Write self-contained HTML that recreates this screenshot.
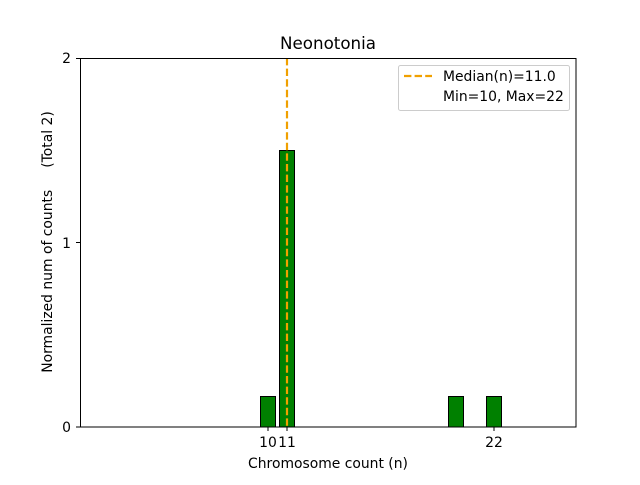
<!DOCTYPE html>
<html><head><style>body{margin:0;background:#fff}</style></head><body>
<svg width="640" height="480" xmlns="http://www.w3.org/2000/svg" font-family="DejaVu Sans, Liberation Sans, sans-serif">
<rect width="640" height="480" fill="#fff"/>
<g fill="#008000" stroke="#000" stroke-width="1">
<rect x="260.5" y="396.5" width="15" height="30.5"/>
<rect x="279.5" y="150.5" width="15" height="276.5"/>
<rect x="448.5" y="396.5" width="15" height="30.5"/>
<rect x="486.5" y="396.5" width="15" height="30.5"/>
</g>
<line x1="287" y1="58" x2="287" y2="427" stroke="#f0a000" stroke-width="2.2" stroke-dasharray="7.4,3.2"/>
<rect x="80.5" y="58.5" width="495.5" height="368.5" fill="none" stroke="#000" stroke-width="1"/>
<g stroke="#000" stroke-width="1">
<line x1="268" y1="427" x2="268" y2="431"/>
<line x1="287" y1="427" x2="287" y2="431"/>
<line x1="494" y1="427" x2="494" y2="431"/>
<line x1="76" y1="427" x2="80" y2="427"/>
<line x1="76" y1="242.5" x2="80" y2="242.5"/>
<line x1="76" y1="58.5" x2="80" y2="58.5"/>
</g>
<g font-size="13.9" fill="#000">
<text x="268" y="447" text-anchor="middle">10</text>
<text x="287" y="447" text-anchor="middle">11</text>
<text x="494" y="447" text-anchor="middle">22</text>
<text x="71" y="432" text-anchor="end">0</text>
<text x="71" y="248" text-anchor="end">1</text>
<text x="71" y="63" text-anchor="end">2</text>
<text x="328" y="468" text-anchor="middle">Chromosome count (n)</text>
<text transform="translate(52,242) rotate(-90)" text-anchor="middle" style="white-space:pre" xml:space="preserve">Normalized num of counts     (Total 2)</text>
</g>
<text x="328" y="49" text-anchor="middle" font-size="16.7">Neonotonia</text>
<rect x="398.5" y="65.5" width="171" height="45" rx="2" fill="#fff" stroke="#ccc"/>
<line x1="404" y1="76" x2="432" y2="76" stroke="#f0a000" stroke-width="2.2" stroke-dasharray="7.4,3.2"/>
<text x="443" y="81" font-size="13.9">Median(n)=11.0</text>
<text x="443" y="101" font-size="13.9">Min=10, Max=22</text>
</svg>
</body></html>
